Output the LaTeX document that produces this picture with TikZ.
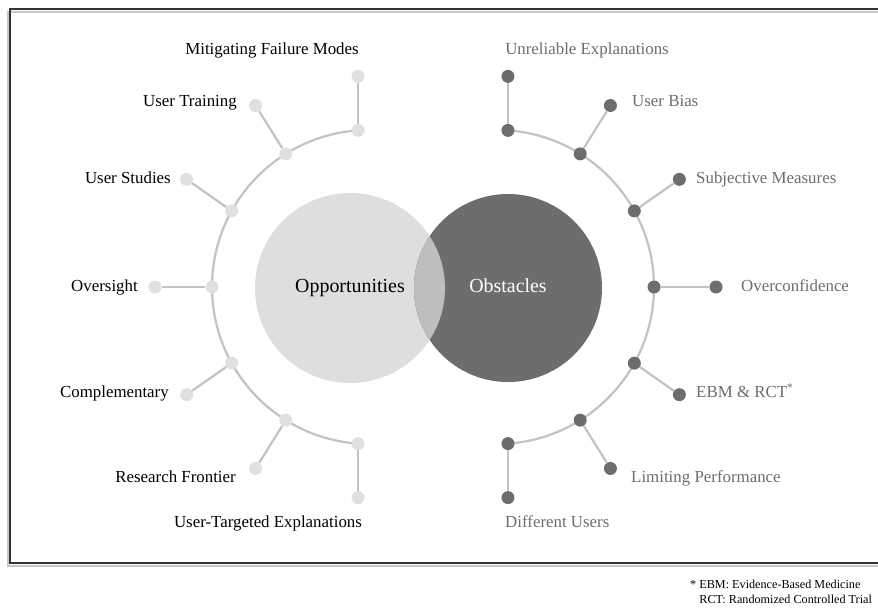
\documentclass[tikz,border=0pt]{standalone}
\usepackage{fontspec}
\setmainfont{Liberation Serif}
\usetikzlibrary{positioning,calc}
\definecolor{oppgray}{HTML}{DEDEDE}
\definecolor{obsgray}{HTML}{6D6D6D}
\definecolor{ovlgray}{HTML}{BEBEBE}
\definecolor{arcgray}{HTML}{C3C3C3}
\definecolor{dotlight}{HTML}{E0E0E0}

\begin{document}
\begin{tikzpicture}[x=0.03cm,y=-0.03cm,
  dotL/.style={circle,fill=dotlight,inner sep=0,minimum size=0.39cm},
  dotR/.style={circle,fill=obsgray,inner sep=0,minimum size=0.39cm},
  spoke/.style={draw=arcgray,line width=1.9pt},
  lab/.style={inner sep=0,font=\fontsize{14.4}{17}\selectfont,text height=2ex,text depth=.25ex},
  labR/.style={lab,text=obsgray},
  big/.style={circle,inner sep=0,font=\fontsize{17}{20}\selectfont,text height=1.9ex,text depth=.4ex}]
  \useasboundingbox (0,0) rectangle (878,607);
  % frame
  \draw[black!22,line width=2.5pt] (8,12) rectangle (900,566);
  \draw[black!80,line width=1.6pt] (10,9) rectangle (900,563);

  % venn
  \node[big,fill=oppgray,minimum size=5.7cm] (opp) at (350,288) {Opportunities};
  \node[big,fill=obsgray,minimum size=5.64cm,text=white] (obs) at (508,288) {Obstacles};
  \begin{scope}
    \clip (opp.center) circle[radius=95];
    \fill[ovlgray] (obs.center) circle[radius=94];
  \end{scope}

  \coordinate (cL) at (369,287);
  \coordinate (cR) at (497,287);
  \draw[spoke] ([shift={(-94:157)}]cL) arc[start angle=-94,end angle=-266,radius=157];
  \draw[spoke] ([shift={(-86:157)}]cR) arc[start angle=-86,end angle=86,radius=157];

  % opportunities side
  \foreach \a/\s/\l [count=\i] in {94/90/54,122/122/57,151/145/55,180/180/57,209/215/55,238/238/57,266/270/54}{
    \node[dotL] (l\i) at ([shift={(-\a:157)}]cL) {};
    \node[dotL] (lo\i) at ([shift={(-\s:\l)}]l\i) {};
    \draw[spoke] (l\i) -- (lo\i);
  }
  % obstacles side
  \foreach \a/\s/\l [count=\i] in {86/90/54,58/58/57,29/35/55,0/0/62,-29/-35/55,-58/-58/57,-86/-90/54}{
    \node[dotR] (r\i) at ([shift={(-\a:157)}]cR) {};
    \node[dotR] (ro\i) at ([shift={(-\s:\l)}]r\i) {};
    \draw[spoke] (r\i) -- (ro\i);
  }

  \node[lab] (mfm) at (272,50) {Mitigating Failure Modes};
  \node[lab,anchor=east] (utr) at (237,102) {User Training};
  \node[lab,anchor=east] (ust) at (171,179) {User Studies};
  \node[lab,anchor=east] (ovs) at (138,287) {Oversight};
  \node[lab,anchor=east] (cmp) at (169,393) {Complementary};
  \node[lab,anchor=east] (rfr) at (236,478) {Research Frontier};
  \node[lab] (ute) at (268,523) {User-Targeted Explanations};

  \node[labR] (unr) at (587,50) {Unreliable Explanations};
  \node[labR,anchor=west] (ubi) at (632,102) {User Bias};
  \node[labR,anchor=west] (sub) at (696,179) {Subjective Measures};
  \node[labR,anchor=west] (ovc) at (741,287) {Overconfidence};
  \node[labR,anchor=west] (ebm) at (696,393) {EBM \& RCT\textsuperscript{*}};
  \node[labR,anchor=west] (lim) at (631,478) {Limiting Performance};
  \node[labR,anchor=west] (dif) at (505,523) {Different Users};

  \node[inner sep=0,anchor=west,align=left,font=\fontsize{10.4}{12.8}\selectfont] (fn) at (690,592)
    {* EBM: Evidence-Based Medicine\\\phantom{* }RCT: Randomized Controlled Trial};
\end{tikzpicture}
\end{document}
